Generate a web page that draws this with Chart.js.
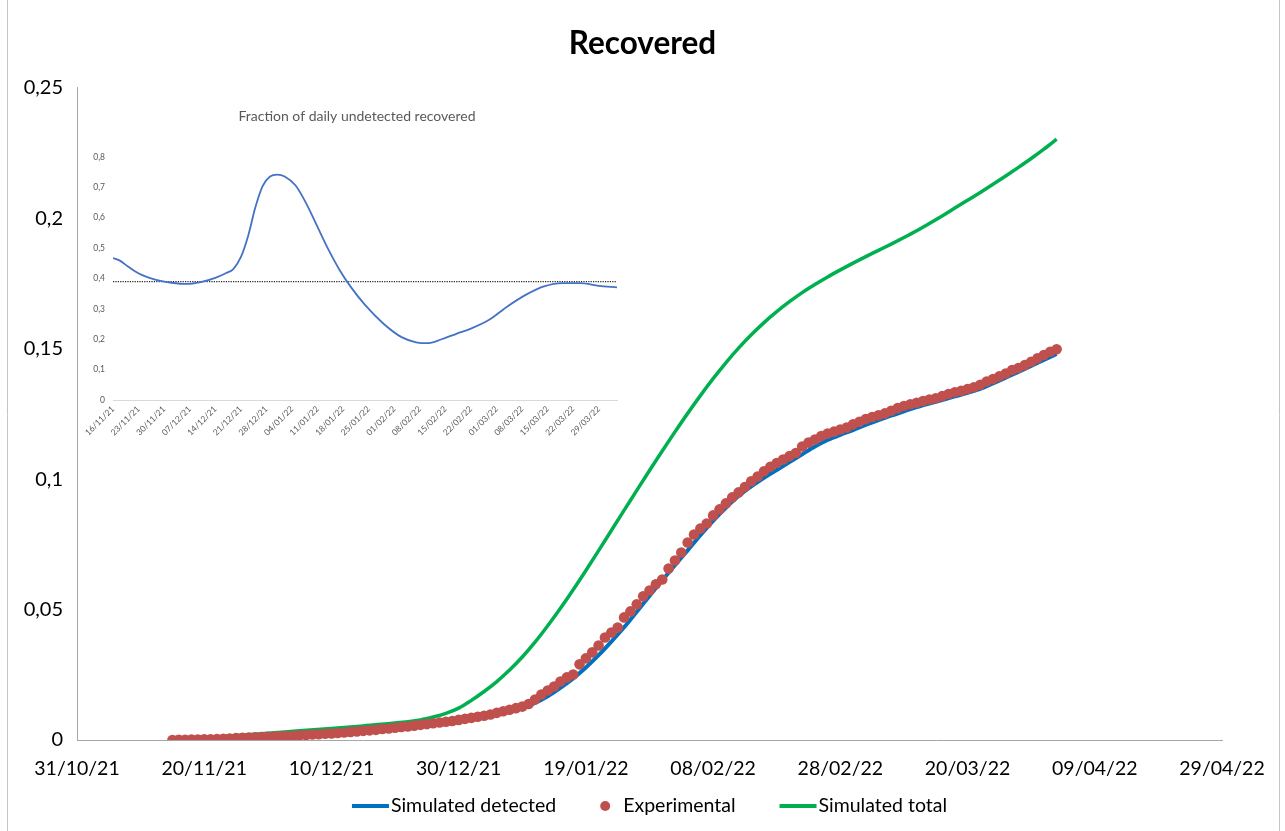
<!DOCTYPE html>
<html>
<head>
<meta charset="utf-8">
<title>Recovered</title>
<script src="https://cdn.jsdelivr.net/npm/chart.js@4.4.1/dist/chart.umd.min.js"></script>
<style>
  html, body { margin: 0; padding: 0; background: #ffffff; }
  #wrap { position: relative; width: 1285px; height: 831px; overflow: hidden; }
  #main { position: absolute; left: 0; top: 0; }
  #inset { position: absolute; left: 75px; top: 100px; }
</style>
</head>
<body>
<div id="wrap">
  <canvas id="main" width="1285" height="831"></canvas>
  <canvas id="inset" width="564" height="350"></canvas>
</div>
<script>
// ---- Main chart: days counted from 31/10/21 ----
const xTickLabels = ['31/10/21', '20/11/21', '10/12/21', '30/12/21', '19/01/22',
                     '08/02/22', '28/02/22', '20/03/22', '09/04/22', '29/04/22'];
const yTickLabels = ['0', '0,05', '0,1', '0,15', '0,2', '0,25'];

// Experimental recovered fraction, one value per day from 15/11/21 (day 15)
const experimentalFirstDay = 15;
const experimental = [
  0.0000, 0.0001, 0.0001, 0.0002, 0.0002, 0.0003, 0.0003, 0.0004, 0.0005, 0.0006,
  0.0007, 0.0008, 0.0009, 0.0010, 0.0011, 0.0012, 0.0013, 0.0014, 0.0015, 0.0016,
  0.0018, 0.0019, 0.0021, 0.0022, 0.0024, 0.0025, 0.0027, 0.0029, 0.0031, 0.0033,
  0.0035, 0.0037, 0.0039, 0.0042, 0.0044, 0.0047, 0.0050, 0.0052, 0.0055, 0.0058,
  0.0061, 0.0064, 0.0067, 0.0070, 0.0073, 0.0077, 0.0081, 0.0085, 0.0089, 0.0093,
  0.0098, 0.0104, 0.0110, 0.0116, 0.0122, 0.0128, 0.0138, 0.0155, 0.0174, 0.0190,
  0.0205, 0.0224, 0.0240, 0.0251, 0.0290, 0.0313, 0.0336, 0.0362, 0.0393, 0.0412,
  0.0431, 0.0470, 0.0493, 0.0520, 0.0551, 0.0573, 0.0597, 0.0615, 0.0657, 0.0688,
  0.0719, 0.0757, 0.0788, 0.0811, 0.0830, 0.0861, 0.0884, 0.0907, 0.0930, 0.0949,
  0.0970, 0.0992, 0.1010, 0.1030, 0.1047, 0.1062, 0.1075, 0.1088, 0.1100, 0.1125,
  0.1140, 0.1152, 0.1165, 0.1175, 0.1182, 0.1190, 0.1198, 0.1210, 0.1220, 0.1230,
  0.1238, 0.1245, 0.1252, 0.1262, 0.1272, 0.1280, 0.1287, 0.1293, 0.1299, 0.1305,
  0.1310, 0.1318, 0.1326, 0.1333, 0.1339, 0.1345, 0.1352, 0.1362, 0.1374, 0.1384,
  0.1394, 0.1405, 0.1418, 0.1426, 0.1437, 0.1450, 0.1463, 0.1476, 0.1488, 0.1498
];

// Simulated detected recovered
const detectedDays = [15, 20, 25, 30, 35, 40, 45, 50, 55, 60, 64, 68, 70, 72, 74, 76, 78, 80,
  82, 84, 86, 88, 90, 92, 94, 96, 98, 100, 102, 104, 106, 108, 110, 112, 114, 116, 118, 120,
  122, 124, 126, 128, 130, 132, 134, 136, 138, 140, 142, 144, 146, 148, 150, 152, 154];
const detectedValues = [0.0000, 0.0002, 0.0005, 0.0010, 0.0016, 0.0023, 0.0031, 0.0041, 0.0054,
  0.0070, 0.0088, 0.0108, 0.0122, 0.0142, 0.0168, 0.0200, 0.0236, 0.0278, 0.0325, 0.0377,
  0.0432, 0.0492, 0.0552, 0.0612, 0.0670, 0.0727, 0.0785, 0.0840, 0.0890, 0.0935, 0.0972,
  0.1005, 0.1035, 0.1065, 0.1095, 0.1125, 0.1150, 0.1170, 0.1188, 0.1208, 0.1226, 0.1243,
  0.1260, 0.1276, 0.1290, 0.1303, 0.1317, 0.1331, 0.1346, 0.1367, 0.1389, 0.1411, 0.1434,
  0.1457, 0.1480];

// Simulated total recovered (detected + undetected)
const totalDays = [15, 20, 25, 30, 35, 40, 45, 50, 54, 56, 58, 60, 62, 64, 66, 68, 70, 72, 74,
  76, 78, 80, 82, 84, 86, 88, 90, 92, 94, 96, 98, 100, 102, 104, 106, 108, 110, 112, 114, 116,
  118, 120, 122, 124, 126, 128, 130, 132, 134, 136, 138, 140, 142, 144, 146, 148, 150, 152, 154];
const totalValues = [0.0002, 0.0008, 0.0017, 0.0026, 0.0035, 0.0044, 0.0054, 0.0065, 0.0077,
  0.0088, 0.0102, 0.0122, 0.0152, 0.0186, 0.0224, 0.0268, 0.0318, 0.0375, 0.0438, 0.0505,
  0.0576, 0.0650, 0.0726, 0.0803, 0.0880, 0.0957, 0.1033, 0.1108, 0.1181, 0.1252, 0.1320,
  0.1385, 0.1446, 0.1502, 0.1553, 0.1600, 0.1642, 0.1680, 0.1715, 0.1746, 0.1775, 0.1802,
  0.1828, 0.1853, 0.1877, 0.1901, 0.1926, 0.1952, 0.1980, 0.2009, 0.2039, 0.2069, 0.2099,
  0.2130, 0.2162, 0.2195, 0.2229, 0.2265, 0.2303];

// ---- Inset: days counted from 16/11/21 ----
const insetTickLabels = ['16/11/21', '23/11/21', '30/11/21', '07/12/21', '14/12/21', '21/12/21',
  '28/12/21', '04/01/22', '11/01/22', '18/01/22', '25/01/22', '01/02/22', '08/02/22', '15/02/22',
  '22/02/22', '01/03/22', '08/03/22', '15/03/22', '22/03/22', '29/03/22'];
const insetYLabels = ['0', '0,1', '0,2', '0,3', '0,4', '0,5', '0,6', '0,7', '0,8'];
const insetDays = [0, 2, 4, 6, 8, 10, 13, 16, 20, 24, 28, 31, 33, 35, 37, 39, 41, 43, 45, 47,
  50, 53, 56, 59, 62, 65, 69, 74, 79, 83, 86, 90, 94, 98, 103, 108, 113, 118, 123, 128, 133, 138];
const insetFraction = [0.467, 0.458, 0.440, 0.424, 0.411, 0.402, 0.392, 0.386, 0.382, 0.388,
  0.402, 0.418, 0.432, 0.470, 0.540, 0.635, 0.705, 0.736, 0.742, 0.736, 0.706, 0.645, 0.570,
  0.495, 0.429, 0.374, 0.313, 0.252, 0.207, 0.190, 0.187, 0.200, 0.218, 0.235, 0.264, 0.308,
  0.346, 0.374, 0.385, 0.385, 0.376, 0.371];
const insetReferenceLevel = 0.39;

const FONT = 'Lato, "Open Sans", sans-serif';
const COLOR_DETECTED = '#0070C0';
const COLOR_EXPERIMENTAL = '#C0504D';
const COLOR_TOTAL = '#00B050';

const toPoints = (xs, ys) => xs.map((x, i) => ({ x: x, y: ys[i] }));
const experimentalPoints = experimental.map((v, i) => ({ x: experimentalFirstDay + i, y: v }));

// An empty right-hand axis that only reserves margin, so the title stays centred on the page
const spacerAxis = width => ({
  type: 'linear', position: 'right', display: true,
  afterFit: s => { s.width = width; },
  grid: { display: false, drawTicks: false },
  border: { display: false },
  ticks: { display: false }
});

// Legend under the axis plus the thin frame on both sides
const legendAndFrame = {
  id: 'legendAndFrame',
  afterDraw(chart) {
    const ctx = chart.ctx;
    ctx.save();
    ctx.strokeStyle = '#c4c4c4';
    ctx.lineWidth = 1;
    ctx.beginPath();
    ctx.moveTo(7.5, 0); ctx.lineTo(7.5, chart.height);
    ctx.moveTo(1279.5, 0); ctx.lineTo(1279.5, chart.height);
    ctx.stroke();

    const items = chart.data.datasets.map(ds => ({
      label: ds.label, kind: ds.showLine === false ? 'dot' : 'line',
      color: ds.showLine === false ? ds.backgroundColor : ds.borderColor
    }));
    const order = ['Simulated detected', 'Experimental', 'Simulated total'];
    items.sort((a, b) => order.indexOf(a.label) - order.indexOf(b.label));
    ctx.font = '19.5px ' + FONT;
    ctx.textBaseline = 'middle';
    const swatchLine = 37, swatchDot = 18, gap = 44;
    const widths = items.map(it => (it.kind === 'line' ? swatchLine + 2 : swatchDot + 5) + ctx.measureText(it.label).width);
    const total = widths.reduce((a, b) => a + b, 0) + gap * (items.length - 1);
    const a = chart.chartArea;
    let x = (a.left + a.right) / 2 - total / 2;
    const y = 806;
    items.forEach((it, i) => {
      if (it.kind === 'line') {
        ctx.strokeStyle = it.color;
        ctx.lineWidth = 4;
        ctx.beginPath(); ctx.moveTo(x, y); ctx.lineTo(x + swatchLine, y); ctx.stroke();
        ctx.fillStyle = '#000';
        ctx.fillText(it.label, x + swatchLine + 2, y);
      } else {
        ctx.fillStyle = it.color;
        ctx.beginPath(); ctx.arc(x + 5, y, 5, 0, Math.PI * 2); ctx.fill();
        ctx.fillStyle = '#000';
        ctx.fillText(it.label, x + swatchDot + 5, y);
      }
      x += widths[i] + gap;
    });
    ctx.restore();
  }
};

new Chart(document.getElementById('main'), {
  type: 'line',
  data: {
    datasets: [
      {
        label: 'Experimental', data: experimentalPoints, showLine: false,
        pointRadius: 5.3, pointHoverRadius: 5.3, pointBorderWidth: 0,
        backgroundColor: COLOR_EXPERIMENTAL, borderColor: COLOR_EXPERIMENTAL, order: 0
      },
      {
        label: 'Simulated total', data: toPoints(totalDays, totalValues),
        borderColor: COLOR_TOTAL, borderWidth: 3.5, pointRadius: 0,
        cubicInterpolationMode: 'monotone', order: 1
      },
      {
        label: 'Simulated detected', data: toPoints(detectedDays, detectedValues),
        borderColor: COLOR_DETECTED, borderWidth: 4, pointRadius: 0,
        cubicInterpolationMode: 'monotone', order: 2
      }
    ]
  },
  options: {
    responsive: false,
    animation: false,
    layout: { padding: 0 },
    plugins: {
      legend: { display: false },
      tooltip: { enabled: false },
      title: {
        display: true, text: 'Recovered', color: '#000',
        font: { family: FONT, size: 31.5, weight: 'bold', lineHeight: 1.2 },
        padding: { top: 25, bottom: 25 }
      }
    },
    scales: {
      x: {
        type: 'linear', min: 0, max: 180,
        afterFit: s => { s.height = 91; },
        grid: { display: false, drawTicks: false },
        border: { display: true, color: '#a6a6a6', width: 1 },
        ticks: {
          stepSize: 20, autoSkip: false, maxRotation: 0, padding: 17,
          color: '#000', font: { family: FONT, size: 19.5 },
          callback: v => xTickLabels[Math.round(v / 20)]
        }
      },
      y: {
        type: 'linear', min: 0, max: 0.25,
        afterFit: s => { s.width = 77; },
        grid: { display: false, drawTicks: false },
        border: { display: true, color: '#a6a6a6', width: 1 },
        ticks: {
          stepSize: 0.05, padding: 14,
          color: '#000', font: { family: FONT, size: 20 },
          callback: v => yTickLabels[Math.round(v / 0.05)]
        }
      },
      margin: spacerAxis(63)
    }
  },
  plugins: [legendAndFrame]
});

// ---- Inset chart ----
new Chart(document.getElementById('inset'), {
  type: 'line',
  data: {
    datasets: [
      {
        label: 'Fraction', data: toPoints(insetDays, insetFraction),
        borderColor: '#4472C4', borderWidth: 1.8, pointRadius: 0,
        cubicInterpolationMode: 'monotone'
      },
      {
        label: 'Reference', data: [{ x: 0, y: insetReferenceLevel }, { x: 138, y: insetReferenceLevel }],
        borderColor: '#222', borderWidth: 1.2, borderDash: [1.2, 1.2], pointRadius: 0
      }
    ]
  },
  options: {
    responsive: false,
    animation: false,
    layout: { padding: 0 },
    plugins: {
      legend: { display: false },
      tooltip: { enabled: false },
      title: {
        display: true, text: 'Fraction of daily undetected recovered', color: '#595959',
        font: { family: FONT, size: 14, weight: 'normal', lineHeight: 1.2 },
        padding: { top: 8, bottom: 32.2 }
      }
    },
    scales: {
      x: {
        type: 'linear', min: 0, max: 138,
        afterFit: s => { s.height = 50; },
        afterBuildTicks: s => { s.ticks = s.ticks.filter(t => t.value % 7 === 0); },
        grid: { display: false, drawTicks: false },
        border: { display: true, color: '#d9d9d9', width: 1 },
        ticks: {
          stepSize: 7, autoSkip: false, minRotation: 45, maxRotation: 45, padding: 4,
          color: '#595959', font: { family: FONT, size: 8.5 },
          callback: v => insetTickLabels[Math.round(v / 7)]
        }
      },
      y: {
        type: 'linear', min: 0, max: 0.8,
        afterFit: s => { s.width = 38; },
        grid: { display: false, drawTicks: false },
        border: { display: false },
        ticks: {
          stepSize: 0.1, padding: 8,
          color: '#595959', font: { family: FONT, size: 8.5 },
          callback: v => insetYLabels[Math.round(v / 0.1)]
        }
      },
      margin: spacerAxis(22)
    }
  }
});
</script>
</body>
</html>
